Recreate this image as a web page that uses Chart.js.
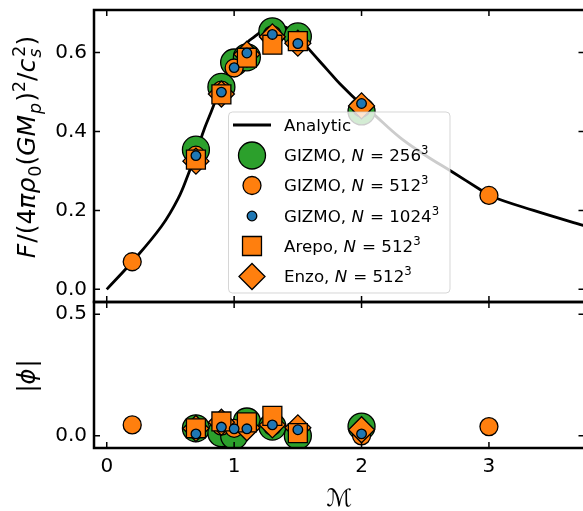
<!DOCTYPE html>
<html><head><meta charset="utf-8">
<script src="https://cdn.jsdelivr.net/npm/chart.js@4"></script>
<style>
html,body{margin:0;padding:0;background:#fff;overflow:hidden;width:583px;height:511px}
canvas{position:absolute;left:0;top:0}
</style></head><body>
<canvas id="topc" width="600" height="511"></canvas>
<canvas id="botc" width="600" height="511"></canvas>
<script>
// ---- data ----
const xTicks = [0, 1, 2, 3];
const topYTicks = [0.0, 0.2, 0.4, 0.6];
const botYTicks = [0.0, 0.5];

const analyticMach  = [0.0, 0.2, 0.43, 0.56, 0.64, 0.70, 0.77, 0.82, 0.90, 0.97, 1.00, 1.05, 1.11, 1.15, 1.22, 1.30, 1.37, 1.45, 1.50, 1.57, 1.73, 1.83, 2.00, 2.07, 2.30, 2.50, 2.71, 2.93, 3.00, 3.35, 3.74, 3.85];
const analyticForce = [0.0, 0.070, 0.160, 0.230, 0.292, 0.345, 0.410, 0.450, 0.515, 0.553, 0.572, 0.600, 0.628, 0.638, 0.654, 0.664, 0.667, 0.657, 0.643, 0.615, 0.557, 0.521, 0.468, 0.451, 0.385, 0.340, 0.298, 0.253, 0.238, 0.200, 0.162, 0.152];

const mach256  = [0.7, 0.9, 1.0, 1.1, 1.3, 1.5, 2.0];
const force256 = [0.354, 0.513, 0.575, 0.588, 0.654, 0.641, 0.451];
const phi256   = [0.031, 0.011, 0.000, 0.059, 0.038, 0.000, 0.038];

const mach512  = [0.2, 0.7, 0.9, 1.0, 1.1, 1.3, 1.5, 2.0, 3.0];
const force512 = [0.070, 0.340, 0.505, 0.561, 0.595, 0.645, 0.630, 0.460, 0.238];
const phi512   = [0.045, 0.035, 0.040, 0.031, 0.035, 0.040, 0.020, 0.000, 0.038];

const mach1024  = [0.7, 0.9, 1.0, 1.1, 1.3, 1.5, 2.0];
const force1024 = [0.339, 0.500, 0.562, 0.599, 0.646, 0.623, 0.471];
const phi1024   = [0.008, 0.036, 0.029, 0.029, 0.045, 0.025, 0.008];

const machArepo  = [0.7, 0.9, 1.1, 1.3, 1.5];
const forceArepo = [0.329, 0.494, 0.587, 0.620, 0.629];
const phiArepo   = [0.031, 0.059, 0.055, 0.082, 0.011];

const machEnzo  = [0.7, 0.9, 1.1, 1.3, 1.5, 2.0];
const forceEnzo = [0.325, 0.495, 0.596, 0.640, 0.624, 0.465];
const phiEnzo   = [0.030, 0.056, 0.033, 0.045, 0.033, 0.025];

// ---- styling ----
const FAM = '"DejaVu Sans"';
Chart.defaults.font.family = FAM;
const GREEN = '#2ca02c', ORANGE = '#ff7f0e', BLUE = '#1f77b4';
const pts = (xs, ys) => xs.map((v, i) => ({x: v, y: ys[i]}));

const series = [
  {key: '256',  xs: mach256,  f: force256,  p: phi256,  style: 'circle',  r: 13.5, c: GREEN,  order: 5},
  {key: '512',  xs: mach512,  f: force512,  p: phi512,  style: 'circle',  r: 9,    c: ORANGE, order: 4},
  {key: '1024', xs: mach1024, f: force1024, p: phi1024, style: 'circle',  r: 4.8,  c: BLUE,   order: 1},
  {key: 'arepo',xs: machArepo,f: forceArepo,p: phiArepo,style: 'rect',    r: 13.4, c: ORANGE, order: 2},
  {key: 'enzo', xs: machEnzo, f: forceEnzo, p: phiEnzo, style: 'rectRot', r: 13,   c: ORANGE, order: 3}
];
function markerSet(s, ys) {
  return {type: 'scatter', data: pts(s.xs, ys), order: s.order,
    pointStyle: s.style, pointRadius: s.r, pointHoverRadius: s.r,
    pointBackgroundColor: s.c, pointBorderColor: '#000', pointBorderWidth: 1.3, showLine: false};
}

// ---- rich text helper (italic / sub / sup) ----
function segFont(size, it) { return (it ? 'italic ' : '') + size + 'px ' + FAM; }
function drawRich(ctx, segs, x, y, size, measureOnly) {
  let cx = x;
  for (const s of segs) {
    if (s.sb !== undefined) {
      const fs = size * 0.7;
      ctx.font = segFont(fs, true);
      const w1 = ctx.measureText(s.sb).width;
      if (!measureOnly) ctx.fillText(s.sb, cx, y + size * 0.24);
      ctx.font = segFont(fs, false);
      const w2 = ctx.measureText(s.sp).width;
      if (!measureOnly) ctx.fillText(s.sp, cx + 1, y - size * 0.42);
      cx += Math.max(w1, w2) + 1;
      continue;
    }
    const fs = s.pos ? size * 0.7 : size;
    ctx.font = segFont(fs, s.it);
    const dy = s.pos === 'sup' ? -size * 0.42 : s.pos === 'sub' ? size * 0.24 : 0;
    if (!measureOnly) ctx.fillText(s.t, cx, y + dy);
    cx += ctx.measureText(s.t).width + (s.it ? size * 0.04 : 0);
  }
  return cx - x;
}

const yTitleTop = [{t:'F',it:1},{t:'/'},{t:'('},{t:'4'},{t:'πρ',it:1},{t:'0',pos:'sub'},{t:'('},{t:'GM',it:1},{t:'p',it:1,pos:'sub'},{t:')'},{t:'2',pos:'sup'},{t:'/'},{t:'c',it:1},{sb:'s',sp:'2'},{t:')'}];
const yTitleBot = [{t:'|'},{t:'ϕ',it:1},{t:'|'}];

const legendRows = [
  {segs: [{t:'Analytic'}], line: true},
  {segs: [{t:'GIZMO, '},{t:'N',it:1},{t:' = 256'},{t:'3',pos:'sup'}], s: series[0]},
  {segs: [{t:'GIZMO, '},{t:'N',it:1},{t:' = 512'},{t:'3',pos:'sup'}], s: series[1]},
  {segs: [{t:'GIZMO, '},{t:'N',it:1},{t:' = 1024'},{t:'3',pos:'sup'}], s: series[2]},
  {segs: [{t:'Arepo, '},{t:'N',it:1},{t:' = 512'},{t:'3',pos:'sup'}], s: series[3]},
  {segs: [{t:'Enzo, '},{t:'N',it:1},{t:' = 512'},{t:'3',pos:'sup'}], s: series[4]}
];

// ---- plugins ----
const frame = {
  id: 'frame',
  afterDatasetsDraw(chart) {
    const {ctx, chartArea: a, scales: {x, y}} = chart;
    ctx.save();
    ctx.strokeStyle = '#000';
    ctx.lineWidth = 1.5;
    const L = 6;
    ctx.beginPath();
    x.ticks.forEach(t => { const px = x.getPixelForValue(t.value);
      ctx.moveTo(px, a.top); ctx.lineTo(px, a.top + L);
      ctx.moveTo(px, a.bottom); ctx.lineTo(px, a.bottom - L); });
    y.ticks.forEach(t => { const py = y.getPixelForValue(t.value);
      ctx.moveTo(a.left, py); ctx.lineTo(a.left + L, py);
      ctx.moveTo(a.right, py); ctx.lineTo(a.right - L, py); });
    ctx.stroke();
    ctx.lineWidth = 2.5;
    ctx.strokeRect(a.left, a.top, a.right - a.left, a.bottom - a.top);
    ctx.restore();
  }
};

function drawYTitle(ctx, segs, cx, cy, size) {
  ctx.save();
  ctx.fillStyle = '#000';
  ctx.textBaseline = 'alphabetic';
  ctx.textAlign = 'left';
  const w = drawRich(ctx, segs, 0, 0, size, true);
  ctx.translate(cx, cy);
  ctx.rotate(-Math.PI / 2);
  drawRich(ctx, segs, -w / 2, 0, size, false);
  ctx.restore();
}

const topDecor = {
  id: 'topDecor',
  afterDraw(chart) {
    const ctx = chart.ctx;
    drawYTitle(ctx, yTitleTop, 35, 147, 25);
    // legend
    ctx.save();
    const bx = 228.5, by = 112, bw = 221.5, bh = 181, rr = 4;
    ctx.beginPath();
    ctx.moveTo(bx + rr, by);
    ctx.arcTo(bx + bw, by, bx + bw, by + bh, rr);
    ctx.arcTo(bx + bw, by + bh, bx, by + bh, rr);
    ctx.arcTo(bx, by + bh, bx, by, rr);
    ctx.arcTo(bx, by, bx + bw, by, rr);
    ctx.closePath();
    ctx.fillStyle = 'rgba(255,255,255,0.8)';
    ctx.fill();
    ctx.strokeStyle = 'rgba(204,204,204,0.8)';
    ctx.lineWidth = 1;
    ctx.stroke();
    const rowY = [125, 155.5, 185.5, 216, 246, 276.5];
    legendRows.forEach((row, i) => {
      const yy = rowY[i];
      if (row.line) {
        ctx.strokeStyle = '#000'; ctx.lineWidth = 2.8;
        ctx.beginPath(); ctx.moveTo(233, yy); ctx.lineTo(271, yy); ctx.stroke();
      } else {
        ctx.fillStyle = row.s.c; ctx.strokeStyle = '#000'; ctx.lineWidth = 1.3;
        Chart.helpers.drawPoint(ctx, {pointStyle: row.s.style, radius: row.s.r, rotation: 0, borderWidth: 1.3}, 252, yy);
      }
      ctx.fillStyle = '#000';
      ctx.textBaseline = 'alphabetic';
      ctx.textAlign = 'left';
      drawRich(ctx, row.segs, 284, yy + 5.8, 16.7, false);
    });
    ctx.restore();
  }
};
const botDecor = {
  id: 'botDecor',
  afterDraw(chart) { drawYTitle(chart.ctx, yTitleBot, 35, 376, 24); }
};

function noPad(s) { s.paddingTop = 0; s.paddingBottom = 0; s.paddingLeft = 0; s.paddingRight = 0; }
function yScale(min, max, ticksArr) {
  return {type: 'linear', min, max,
    grid: {display: false, drawTicks: false}, border: {display: false},
    ticks: {font: {size: 20}, color: '#000', padding: 7, callback: v => Number(v).toFixed(1)},
    afterBuildTicks: s => { s.ticks = ticksArr.map(v => ({value: v})); },
    afterFit: s => { s.width = 94; noPad(s); }};
}

// ---- top panel ----
new Chart(document.getElementById('topc'), {
  type: 'scatter',
  data: {datasets: [
    {type: 'line', label: 'Analytic', data: pts(analyticMach, analyticForce), order: 6,
     borderColor: '#000', borderWidth: 2.8, pointRadius: 0, tension: 0.4, fill: false},
    ...series.map(s => markerSet(s, s.f))
  ]},
  options: {
    responsive: false, animation: false, devicePixelRatio: 1, events: [],
    layout: {autoPadding: false, padding: {left: 0, right: 15.5, top: 10, bottom: 209}},
    plugins: {legend: {display: false}, tooltip: {enabled: false}},
    scales: {
      x: {type: 'linear', min: -0.1, max: 3.75, grid: {display: false, drawTicks: false}, border: {display: false},
          ticks: {display: false},
          afterBuildTicks: s => { s.ticks = xTicks.map(v => ({value: v})); },
          afterFit: s => { s.height = 0; noPad(s); }},
      y: yScale(-0.032, 0.708, topYTicks)
    }
  },
  plugins: [frame, topDecor]
});

// ---- bottom panel ----
new Chart(document.getElementById('botc'), {
  type: 'scatter',
  data: {datasets: series.map(s => markerSet(s, s.p))},
  options: {
    responsive: false, animation: false, devicePixelRatio: 1, events: [],
    layout: {autoPadding: false, padding: {left: 0, right: 15.5, top: 302, bottom: 0}},
    plugins: {legend: {display: false}, tooltip: {enabled: false}},
    scales: {
      x: {type: 'linear', min: -0.1, max: 3.75, grid: {display: false, drawTicks: false}, border: {display: false},
          ticks: {font: {size: 20}, color: '#000', padding: 7, callback: v => String(v)},
          title: {display: true, text: 'ℳ', color: '#000', font: {size: 24}, padding: {top: 0, bottom: -3}},
          afterBuildTicks: s => { s.ticks = xTicks.map(v => ({value: v})); },
          afterFit: s => { s.height = 63; noPad(s); }},
      y: yScale(-0.05, 0.55, botYTicks)
    }
  },
  plugins: [frame, botDecor]
});
</script>
</body></html>
